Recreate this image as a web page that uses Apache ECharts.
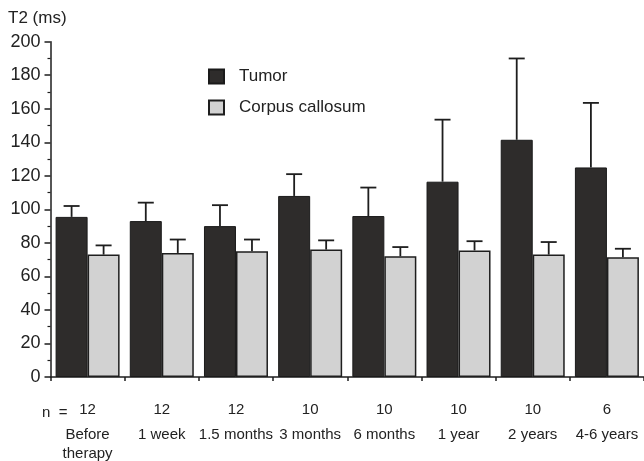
<!DOCTYPE html>
<html>
<head>
<meta charset="utf-8">
<script src="https://cdn.jsdelivr.net/npm/echarts@6/dist/echarts.min.js"></script>
<style>
html,body{margin:0;padding:0;background:#fff;}
#chart{width:644px;height:461px;}
</style>
</head>
<body>
<div id="chart"></div>
<script>
const categories = ['Before\ntherapy','1 week','1.5 months','3 months','6 months','1 year','2 years','4-6 years'];
const nValues = [12,12,12,10,10,10,10,6];
const tumorMean = [95.5, 93, 90, 108, 96, 116.5, 141.5, 125];
const tumorUpper = [102, 104, 102.5, 121, 113, 153.5, 190, 163.5];
const ccMean = [73, 74, 75, 76, 72, 75.5, 73, 71.5];
const ccUpper = [78.5, 82, 82, 81.5, 77.5, 81, 80.5, 76.5];
const yTicks = [0,20,40,60,80,100,120,140,160,180,200];

const FONT = 'Liberation Sans, Arial, Helvetica, sans-serif';
const BAR_W = 32;

function errRender(offset){
  return function(params, api){
    const i = api.value(0);
    const p0 = api.coord([i, api.value(1)]);
    const p1 = api.coord([i, api.value(2)]);
    const x = p0[0] + offset;
    const style = {stroke:'#1e1e1e', lineWidth:1.8};
    return {type:'group', children:[
      {type:'line', shape:{x1:x,y1:p0[1],x2:x,y2:p1[1]}, style:style},
      {type:'line', shape:{x1:x-8,y1:p1[1],x2:x+8,y2:p1[1]}, style:style}
    ]};
  };
}

const chart = echarts.init(document.getElementById('chart'), null, {renderer:'canvas'});
chart.setOption({
  backgroundColor:'#ffffff',
  animation:false,
  textStyle:{fontFamily:FONT},
  grid:{left:50.5, right:-6, top:41.7, bottom:80.5, containLabel:false},
  legend:{
    data:['Tumor','Corpus callosum'],
    orient:'vertical', left:203, top:63,
    itemWidth:15, itemHeight:14, itemGap:14,
    icon:'rect',
    textStyle:{fontFamily:FONT, fontSize:17, color:'#222', padding:[0,0,0,10], lineHeight:14, height:14}
  },
  xAxis:{
    type:'category', data:categories, boundaryGap:true,
    axisLine:{lineStyle:{color:'#1e1e1e', width:1.5}},
    axisTick:{show:true, length:4, lineStyle:{color:'#1e1e1e', width:1.5}},
    axisLabel:{
      margin:18, interval:0,
      formatter:function(v, idx){
        const parts = v.split('\n').map(s=>'{c|'+s+'}').join('\n');
        return '{n|'+nValues[idx]+'}\n'+parts;
      },
      rich:{
        n:{fontFamily:FONT, fontSize:15, color:'#222', lineHeight:30},
        c:{fontFamily:FONT, fontSize:15, color:'#222', lineHeight:19}
      }
    }
  },
  yAxis:{
    type:'value', min:0, max:200, interval:20,
    axisLine:{show:true, lineStyle:{color:'#1e1e1e', width:1.5}},
    axisTick:{show:true, length:6, lineStyle:{color:'#1e1e1e', width:1.5}},
    minorTick:{show:true, splitNumber:2, length:3, lineStyle:{color:'#1e1e1e', width:1.2}},
    splitLine:{show:false},
    axisLabel:{margin:10, fontFamily:FONT, fontSize:18, color:'#222',
      formatter:function(v){ return yTicks.indexOf(v)>=0 ? String(v) : ''; }}
  },
  graphic:[
    {type:'text', left:8, top:10, style:{text:'T2 (ms)', fontFamily:FONT, fontSize:17, fill:'#222'}},
    {type:'text', left:42, top:405, style:{text:'n  =', fontFamily:FONT, fontSize:15, fill:'#222'}}
  ],
  series:[
    {name:'Tumor', type:'bar', data:tumorMean, barWidth:BAR_W, barGap:'0%',
      itemStyle:{color:'#2e2c2b', borderColor:'#1a1a1a', borderWidth:1}},
    {name:'Corpus callosum', type:'bar', data:ccMean, barWidth:BAR_W, barGap:'0%',
      itemStyle:{color:'#d2d2d2', borderColor:'#1e1e1e', borderWidth:1.5}},
    {name:'errT', type:'custom', renderItem:errRender(-BAR_W/2), z:5,
      data:tumorMean.map((m,i)=>[i,m,tumorUpper[i]]), encode:{x:0,y:[1,2]}},
    {name:'errC', type:'custom', renderItem:errRender(BAR_W/2), z:5,
      data:ccMean.map((m,i)=>[i,m,ccUpper[i]]), encode:{x:0,y:[1,2]}}
  ]
});
</script>
</body>
</html>
